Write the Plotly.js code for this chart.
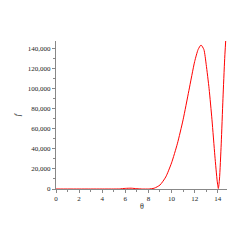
<!DOCTYPE html>
<html><head><meta charset="utf-8">
<script src="https://cdn.plot.ly/plotly-3.0.1.min.js"></script>
<style>html,body{margin:0;padding:0;background:#fff}#c{width:245px;height:245px}</style>
</head><body><div id="c"></div>
<script>
const theta = [0,1,2,3,4,5,5.5,6,6.5,7,7.5,8,8.5,9,9.5,10,10.5,11,11.5,12,12.3,12.55,12.8,13,13.25,13.5,13.75,13.95,14.05,14.15,14.3,14.45,14.6,14.75];
const fvals = [0,0,0,0,0,0,100,600,800,300,0,0,800,4000,12000,26000,45000,69000,98000,127000,139000,143500,139000,124000,100000,69000,33000,8000,500,10000,45000,90000,130000,160000];
const xticks = [0,2,4,6,8,10,12,14];
const yticks = [0,20000,40000,60000,80000,100000,120000,140000];
const ytickText = ["0","20,000","40,000","60,000","80,000","100,000","120,000","140,000"];

Plotly.newPlot('c', [{
  x: theta, y: fvals, type: 'scatter', mode: 'lines',
  line: {color: '#ff0000', width: 1, shape: 'spline', smoothing: 0.6},
  cliponaxis: true, hoverinfo: 'none'
}], {
  width: 245, height: 245,
  margin: {l: 56, r: 18, t: 41, b: 56},
  paper_bgcolor: '#fff', plot_bgcolor: '#fff',
  showlegend: false,
  font: {family: 'Liberation Serif', size: 7, color: '#222'},
  xaxis: {
    range: [0, 14.8], tickvals: xticks, ticktext: xticks.map(String),
    showgrid: false, zeroline: false, showline: true, linecolor: '#888', linewidth: 1,
    ticks: 'outside', ticklen: 3, tickcolor: '#888',
    minor: {dtick: 1, tick0: 0, ticks: 'outside', ticklen: 2, tickcolor: '#888', showgrid: false},
    tickfont: {family: 'Liberation Serif', size: 7, color: '#222'}
  },
  yaxis: {
    range: [0, 147500], tickvals: yticks, ticktext: ytickText,
    showgrid: false, zeroline: false, showline: true, linecolor: '#888', linewidth: 1,
    ticks: 'outside', ticklen: 3, tickcolor: '#888',
    minor: {dtick: 10000, tick0: 0, ticks: 'outside', ticklen: 2, tickcolor: '#888', showgrid: false},
    tickfont: {family: 'Liberation Serif', size: 7, color: '#222'},
    title: {text: '<i>f</i>', font: {family: 'Liberation Serif', size: 8, color: '#222'}, standoff: 6}
  },
  annotations: [{
    text: 'θ', xref: 'paper', yref: 'paper', x: 0.5, y: -0.115,
    xanchor: 'center', yanchor: 'middle', showarrow: false,
    font: {family: 'Liberation Serif', size: 8, color: '#222'}
  }]
}, {staticPlot: true});
</script></body></html>
